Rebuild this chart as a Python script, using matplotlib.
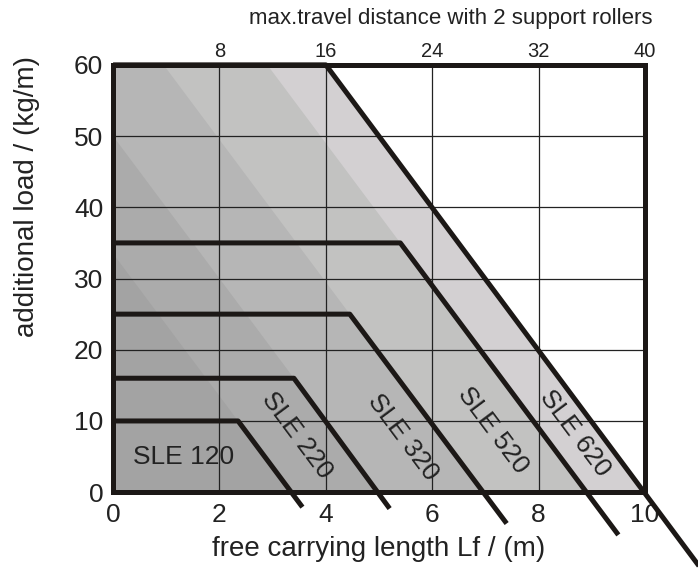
import matplotlib
matplotlib.use('Agg')
from matplotlib import pyplot as plt

# carrying load chart, slope of the falling part = 10 (kg/m) per metre
sle_names = ['SLE 120', 'SLE 220', 'SLE 320', 'SLE 520', 'SLE 620']
sle_load = [10, 16, 25, 35, 60]
sle_knee = [2.35, 3.4, 4.45, 5.4, 4.0]
sle_end_x = [3.56, 5.2, 7.4, 9.5, 11.1]
sle_end_y = [-2.1, -2.3, -4.4, -6.0, -11.2]
slope = 10
sle_colors = ['#a3a3a3', '#ababab', '#b6b6b6', '#c2c2c1', '#d3d0d2']
label_x = [1.33, 3.46, 5.45, 7.14, 8.68]
label_y = [5.0, 8.0, 7.7, 8.7, 8.3]

travel_ticks = [8, 16, 24, 32, 40]

plt.rcParams['font.family'] = ['Liberation Sans', 'DejaVu Sans']
plt.rcParams['figure.figsize'] = (6.98, 5.69)
line_color = '#1c1816'

fig = plt.figure(dpi=100)
ax = fig.add_axes([0.162, 0.135, 0.762, 0.751])
ax.set_xlim(0, 10)
ax.set_ylim(0, 60)

# shaded areas, largest first
for i in range(len(sle_names) - 1, -1, -1):
    x0 = sle_knee[i] + sle_load[i] / slope
    x60 = sle_knee[i] + (sle_load[i] - 60) / slope
    if x60 >= 0:
        px = [0, x0, x60, 0]
        py = [0, 0, 60, 60]
    else:
        px = [0, x0, 0]
        py = [0, 0, sle_load[i] + slope * sle_knee[i]]
    ax.fill(px, py, color=sle_colors[i], lw=0, zorder=1)

ax.set_xticks(range(0, 11, 2))
ax.set_yticks(range(0, 61, 10))
ax.grid(color='#222222', linewidth=0.9, zorder=2)
ax.set_axisbelow(False)
for gl in ax.get_xgridlines() + ax.get_ygridlines():
    gl.set_zorder(2)

for i in range(len(sle_names)):
    ax.plot([0, sle_knee[i], sle_end_x[i]],
            [sle_load[i], sle_load[i], sle_end_y[i]],
            color=line_color, linewidth=3.6, solid_capstyle='butt',
            clip_on=False, zorder=4)
    if i == 0:
        ax.text(label_x[i], label_y[i], sle_names[i], fontsize=19,
                ha='center', va='center', color='#222222', zorder=5)
    else:
        ax.text(label_x[i], label_y[i], sle_names[i], fontsize=19,
                rotation=-53.2, rotation_mode='anchor',
                ha='center', va='center', color='#222222', zorder=5)

for s in ax.spines.values():
    s.set_linewidth(3.6)
    s.set_color(line_color)
    s.set_zorder(6)

ax.tick_params(length=0, labelsize=19, pad=7, colors='#222222')
ax.tick_params(axis='x', pad=8)
ax.set_xlabel('free carrying length Lf / (m)', fontsize=20, color='#222222', labelpad=6)
fig.text(0.039, 0.655, 'additional load / (kg/m)', fontsize=20, color='#222222',
         rotation=90, ha='center', va='center')

top = ax.secondary_xaxis('top', functions=(lambda x: x * 4, lambda x: x / 4))
top.set_xticks(travel_ticks)
top.tick_params(length=0, labelsize=14.5, pad=3, colors='#222222')
top.spines['top'].set_visible(False)
fig.text(0.646, 0.968, 'max.travel distance with 2 support rollers', fontsize=16,
         color='#222222', ha='center', va='center')

fig.savefig('out.png', dpi=100)
